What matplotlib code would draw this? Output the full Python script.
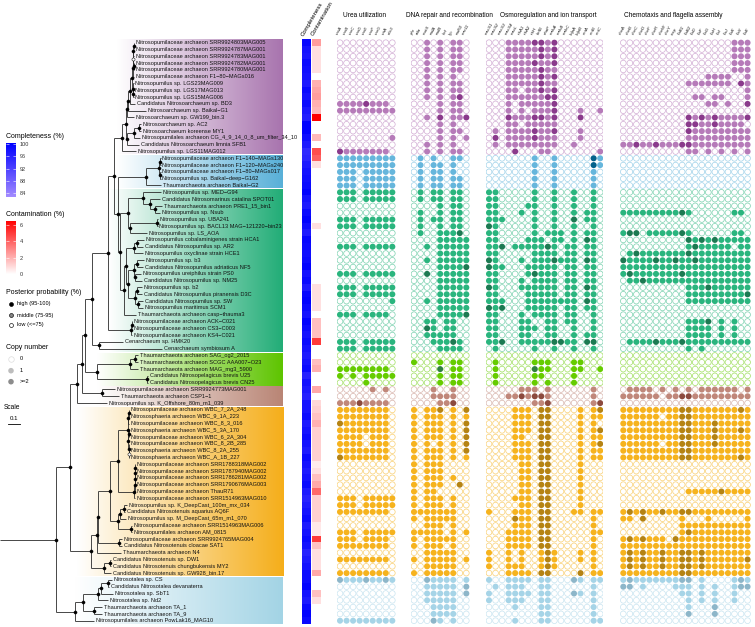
#!/usr/bin/env python
import re
import numpy as np
import matplotlib
matplotlib.use("Agg")
import matplotlib.pyplot as plt
from matplotlib.collections import LineCollection
from matplotlib.colors import LinearSegmentedColormap, Normalize, to_rgb
from matplotlib.cm import ScalarMappable

plt.rcParams['font.family'] = ['Liberation Sans', 'DejaVu Sans']

# ---------------------------------------------------------------- data
TAXA = [
    "Nitrosopumilaceae archaeon SRR9924803MAG005",
    "Nitrosopumilaceae archaeon SRR9924787MAG001",
    "Nitrosopumilaceae archaeon SRR9924783MAG001",
    "Nitrosopumilaceae archaeon SRR9924782MAG001",
    "Nitrosopumilaceae archaeon SRR9924780MAG001",
    "Nitrosopumilaceae archaeon F1\u221280\u2212MAGs016",
    "Nitrosopumilus sp. LGS23MAG009",
    "Nitrosopumilus sp. LGS17MAG013",
    "Nitrosopumilus sp. LGS15MAG006",
    "Candidatus Nitrosoarchaeum sp. BD3",
    "Nitrosoarchaeum sp. Baikal\u2212G1",
    "Nitrosoarchaeum sp. GW199_bin.3",
    "Nitrosoarchaeum sp. AC2",
    "Nitrosoarchaeum koreense MY1",
    "Nitrosopumilales archaeon CG_4_9_14_0_8_um_filter_34_10",
    "Candidatus Nitrosoarchaeum limnia SFB1",
    "Nitrosopumilus sp. LGS11MAG012",
    "Nitrosopumilaceae archaeon F1\u2212140\u2212MAGs130",
    "Nitrosopumilaceae archaeon F1\u2212120\u2212MAGs240",
    "Nitrosopumilaceae archaeon F1\u221280\u2212MAGs017",
    "Nitrosopumilus sp. Baikal\u2212deep\u2212G162",
    "Thaumarchaeota archaeon Baikal\u2212G2",
    "Nitrosopumilus sp. MED\u2212G94",
    "Candidatus Nitrosomarinus catalina SPOT01",
    "Thaumarchaeota archaeon PRE1_15_bin1",
    "Nitrosopumilus sp. Nsub",
    "Nitrosopumilus sp. UBA241",
    "Nitrosopumilus sp. BACL13 MAG\u2212121220\u2212bin23",
    "Nitrosopumilus sp. LS_AOA",
    "Nitrosopumilus cobalaminigenes strain HCA1",
    "Candidatus Nitrosopumilus sp. AR2",
    "Nitrosopumilus oxyclinae strain HCE1",
    "Nitrosopumilus sp. b3",
    "Candidatus Nitrosopumilus adriaticus NF5",
    "Nitrosopumilus ureiphilus strain PS0",
    "Candidatus Nitrosopumilus sp. NM25",
    "Nitrosopumilus sp. b2",
    "Candidatus Nitrosopumilus piranensis D3C",
    "Candidatus Nitrosopumilus sp. SW",
    "Nitrosopumilus maritimus SCM1",
    "Thaumarchaeota archaeon casp\u2212thauma3",
    "Nitrosopumilaceae archaeon ACK\u2212C021",
    "Nitrosopumilaceae archaeon CS3\u2212C003",
    "Nitrosopumilaceae archaeon KS4\u2212C021",
    "Cenarchaeum sp. HMK20",
    "Cenarchaeum symbiosum A",
    "Thaumarchaeota archaeon SAG_og2_2015",
    "Thaumarchaeota archaeon SCGC AAA007\u2212O23",
    "Thaumarchaeota archaeon MAG_mg3_5900",
    "Candidatus Nitrosopelagicus brevis U25",
    "Candidatus Nitrosopelagicus brevis CN25",
    "Nitrosopumilaceae archaeon SRR9924773MAG001",
    "Thaumarchaeota archaeon CSP1\u22121",
    "Nitrosopumilus sp. K_Offshore_80m_m1_039",
    "Nitrosopumilaceae archaeon WBC_7_2A_248",
    "Nitrososphaeria archaeon WBC_9_1A_223",
    "Nitrosopumilaceae archaeon WBC_8_3_016",
    "Nitrososphaeria archaeon WBC_5_3A_170",
    "Nitrosopumilaceae archaeon WBC_6_2A_304",
    "Nitrosopumilaceae archaeon WBC_8_2B_285",
    "Nitrososphaeria archaeon WBC_8_2A_255",
    "Nitrososphaeria archaeon WBC_A_1B_227",
    "Nitrosopumilaceae archaeon SRR1788318MAG002",
    "Nitrosopumilaceae archaeon SRR1787940MAG002",
    "Nitrosopumilaceae archaeon SRR1786281MAG002",
    "Nitrosopumilaceae archaeon SRR1790676MAG003",
    "Nitrosopumilaceae archaeon ThauR71",
    "Nitrosopumilaceae archaeon SRR1514963MAG010",
    "Nitrosopumilus sp. K_DeepCast_100m_mx_034",
    "Candidatus Nitrosotenuis aquarius AQ6F",
    "Nitrosopumilus sp. M_DeepCast_65m_m1_070",
    "Nitrosopumilaceae archaeon SRR1514963MAG006",
    "Nitrosopumilales archaeon AM_0815",
    "Nitrosopumilaceae archaeon SRR9924765MAG004",
    "Candidatus Nitrosotenuis cloacae SAT1",
    "Thaumarchaeota archaeon N4",
    "Candidatus Nitrosotenuis sp. DW1",
    "Candidatus Nitrosotenuis chungbukensis MY2",
    "Candidatus Nitrosotenuis sp. GW928_bin.17",
    "Nitrosotalea sp. CS",
    "Candidatus Nitrosotalea devanaterra",
    "Nitrosotalea sp. SbT1",
    "Nitrosotalea sp. Nd2",
    "Thaumarchaeota archaeon TA_1",
    "Thaumarchaeota archaeon TA_9",
    "Nitrosopumilales archaeon PowLak16_MAG10",
]

# clades from top to bottom: purple, blue, green, light green, brown, orange, light blue
CLADE_SIZES = [17, 5, 24, 5, 3, 25, 7]

# tree (leaf numbers index TAXA, branch lengths in substitutions/site)
P9 = "((((0:0.004,1:0.004):0.002,2:0.006):0.002,(3:0.004,4:0.004):0.004)60:0.002,5:0.008):0.008"
P10 = "(6:0.006,(7:0.004,8:0.004):0.002):0.008"
P5 = f"(((({P9},{P10}):0.017,9:0.042):0.017,10:0.15):0.008,11:0.058):0.008"
P2 = "(((12:0.017,13:0.017):0.042,14:0.05):0.058,15:0.1):0.008"
PURPLE = f"(({P5},{P2}):0.033,16:0.117):0.067"
BLUE = "(((17:0.008,18:0.008):0.008,(19:0.008,20:0.008):0.008):0.108,21:0.125):0.233"
MED = "(22:0.15,(23:0.083,(24:0.058,25:0.042):0.042):0.058):0.125"
GCA = f"({MED},((26:0.008,27:0.004):0.225,28:0.142):0.017):0.067"
HCA = "((29:0.058,30:0.05):0.025,31:0.075):0.067"
SCM = ("(((32:0.058,33:0.05):0.025,(34:0.05,35:0.058):0.008):0.05,"
       "((36:0.042,37:0.042):0.017,(38:0.042,39:0.042):0.025):0.058):0.017")
GCB = f"(({HCA},{SCM}):0.017,40:0.1):0.033"
GREEN = f"({GCA},{GCB}):0.017"
ACK = "((41:0.004,42:0.004):0.004,43:0.008):0.192"
CEN = "(44:0.2,45:0.525):0.058"
TOP = f"((({PURPLE},({BLUE},{GREEN}):0.033):0.05,{ACK}):0.133,{CEN}):0.058"
LIGHTGREEN = "(((46:0.025,47:0.025):0.042,48:0.067):0.275,(49:0.008,50:0.008):0.417):0.1"
BROWN = "(51:0.108,52:0.142):0.167"
UPPER = f"((({TOP},{LIGHTGREEN}):0.025,{BROWN}):0.042,53:0.25):0.058"
WBC = ("(((54:0.004,55:0.004):0.002,56:0.006):0.002,"
       "((57:0.004,58:0.004):0.002,(59:0.004,(60:0.002,61:0.002)70:0.002):0.002):0.002):0.083")
SRR = "(((((62:0.002,63:0.002):0.001,64:0.003):0.001,65:0.004):0.001,66:0.005):0.004,67:0.008):0.133"
O6 = "(((68:0.025,69:0.008):0.033,70:0.05):0.017,(71:0.008,72:0.008):0.108):0.067"
O4 = f"(({WBC},{SRR}):0.067,{O6}):0.1"
ORANGE = f"((({O4},(73:0.025,74:0.025):0.175):0.008,75:0.2):0.05,((76:0.008,77:0.008):0.05,78:0.058):0.108):0.175"
LIGHTBLUE = ("(((((79:0.033,80:0.008):0.058,81:0.1):0.025,82:0.083):0.125,"
             "(83:0.067,84:0.067):0.092):0.067,85:0.158):0.158")
NEWICK = f"(({UPPER},{ORANGE}):0.117,{LIGHTBLUE}):0.467;"

COMPLETENESS = [
    99.5, 98, 97.5, 99, 98.5, 98, 97, 99, 98, 99, 97.5, 96.5, 100, 100, 98.5, 97, 95,
    95.5, 97, 98, 98.5, 99,
    100, 98, 97, 99, 100, 98.5, 97, 99.5, 99, 98.5, 99, 100, 98, 99, 97, 99.5, 100, 99, 98, 100, 99, 98, 99, 98,
    97, 98, 99, 96, 98,
    97, 96, 98,
    98, 99, 97, 98, 99, 98, 97, 99, 98, 97, 98, 99, 97, 96, 97, 98, 99, 97, 98, 99, 98, 96, 97, 98, 99,
    99, 100, 98, 97, 99, 100, 99,
]
CONTAMINATION = [
    2.5, 0.8, 0.8, 0.8, 0.8, 0.0, 2.0, 2.3, 2.5, 2.0, 1.8, 6.5, 0, 0, 1.8, 0, 4.5,
    4.0, 0.8, 0, 0, 0,
    0, 0, 0, 0, 0, 0.8, 0, 0, 0, 0, 0, 0, 0, 0, 0.8, 0.8, 0.8, 0.8, 0, 1.6, 1.6, 1.6, 5.0, 0,
    0, 1.6, 2.0, 0, 0,
    2.2, 0, 1.0,
    1.2, 1.5, 2.0, 1.2, 1.2, 1.2, 1.2, 1.2, 0.5, 0.8, 1.6, 2.2, 3.8, 1.2, 1.2, 1.2, 1.2, 0.6, 0.6, 5.0,
    1.5, 0.8, 0.8, 0.8, 2.2,
    0, 0, 1.6, 0.8, 0, 0, 0,
]

UREA_GENES = ["ureA", "ureB", "ureC", "ureD", "ureE", "ureF", "ureG", "urtA", "dur3"]
DNA_GENES = ["phr", "ada", "mutS", "radA", "radB", "hef", "hjc", "rad50", "mre11"]
OSMO_GENES = ["mscS1", "mscS2", "mscS3", "mscS4", "mscL", "trkA1", "trkA2", "trkH", "kefB",
              "nhaP", "mnhA", "mnhB", "mnhC", "kdpA", "kdpB", "ectA", "ectB", "ectC"]
CHEMO_GENES = ["cheA", "cheB", "cheC", "cheD", "cheF", "cheR", "cheW", "cheY", "mcp", "flaB1",
               "flaB2", "flaD", "flaF", "flaG", "flaH", "flaI", "flaJ", "flaK", "flaX", "flaE"]

# copy number per taxon (0 absent, 1 one copy, 2 two or more)
UREA = [
    "000000000", "000000000", "000000000", "000000000", "000000000", "000000000",
    "000000000", "000000000", "000000000", "111121110", "111111111", "000000000",
    "000000000", "000000000", "000000001", "000000000", "211111110",
    "111111111", "111111111", "111011111", "111011111", "111011111",
    "111011111", "111011111", "000000000", "000000000", "111011111", "111011111",
    "000000000", "000000000", "111011111", "000000000", "000000000", "000000000",
    "111011111", "000000000", "111011111", "111011111", "000000001", "000000000",
    "111011110", "000000000", "000000000", "000000000", "111011111", "111011111",
    "000000000", "000000000", "111111110", "101011111", "000010000",
    "000001010", "000000000", "111211110",
    "111111110", "111111110", "211111110", "111111110", "111101110", "111101110",
    "111111110", "211111110", "000000000", "000000000", "000000000", "000000000",
    "000000000", "111011111", "111011111", "111111110", "000000000", "000000000",
    "111011111", "111011110", "111111110", "000000000", "111111110", "000000000",
    "111111110",
    "211121121", "000000000", "000000000", "000000000", "000000000", "000000000", "111111111",
]
DNA = [
    "001010110", "001010110", "001010110", "001010110", "001010110", "001010100",
    "001010110", "001010110", "001010120", "000010110", "000010110", "001020112",
    "000010100", "000010110", "000010101", "001010100", "001010110",
    "010100110", "010110100", "010110100", "010110110", "010110110",
    "010110110", "010110110", "000010110", "010010110", "010110110", "010010110",
    "010011120", "000011111", "001011111", "000011111", "001011111", "000011112",
    "002011111", "000011111", "000011111", "000011111", "001011111", "000011111",
    "000011112", "001101100", "002101100", "001111100", "000111210", "000011110",
    "000000000", "100010110", "000020110", "000010110", "000010110",
    "000100100", "000111100", "000011200",
    "101120102", "101110101", "101110102", "101110102", "101110102", "101010102",
    "101110102", "101110101", "101110000", "101110000", "101110100", "101110020",
    "101100000", "101110100", "101110100", "111111100", "101111100", "001110100",
    "111110101", "101111100", "101110100", "001111100", "101111101", "001111100",
    "101111100",
    "002111101", "001111102", "001111102", "001111100", "000111100", "000111100", "000210100",
]
OSMO = [
    "000111122120000000", "000111112120000000", "000111112120000000", "000111121120000000",
    "000111112110000000", "000111112120000000", "000111112110000000", "000110112120000000",
    "000111111220000000", "000101111120000000", "000101011120001001", "000211122120002000",
    "000110111110000000", "010111121120001000", "020111121110001000", "010111111110010000",
    "000020001100000001",
    "000000010010000021", "000000010010000021", "000000010010000010", "000000010010000010",
    "000000010010000010",
    "110000010010010010", "110000010010010010", "110000110010010010", "110001010010010110",
    "111000010010020110", "210000010010010010", "110000010111010110", "110000111011010210",
    "112011111210110110", "110000011110110110", "210001011121110210", "211000111110110110",
    "110000121110110110", "110001011110110110", "210001111110110210", "110000111110110110",
    "111000111111110210", "212000111110110110", "110001011110110010", "110001100110110010",
    "110001110110010010", "110001100110010110", "112001111122110220", "010000010010010010",
    "000000000000000000", "010000011100011000", "010000021100011001", "010000011000010000",
    "010000010100010000",
    "000001110100000010", "000112122100000010", "000000011200000012",
    "000011102200001012", "000011102200001011", "000011102200001010", "000011102200001012",
    "000011002200001011", "000011102200001012", "000011102200001011", "000011102200001011",
    "000001102200001000", "000001102200001000", "000001102200001000", "000001102200001000",
    "000001102200001000", "000011102200001000", "000001102200001000", "100011102200011011",
    "000021102200000010", "000011102200000010", "000111102200000011", "000111102200000010",
    "000111102200000010", "100101001210001010", "100101001210001010", "100111001210000010",
    "000111102200002011",
    "100111101100021011", "010111001100000010", "100111101100021010", "100111001100000010",
    "000010001100000010", "000000001100000010", "000010001100000011",
]
CHEMO = [
    "00000000000000000111", "00000000000000000111", "00000000000000000111",
    "00000000000000000111", "00000000000000000111", "00000000000001111001",
    "00000000001111111021", "00000000000000000001", "00000000000110110001",
    "00000000000001101002", "00000000000000000000", "00000000002121211112",
    "00000000002211211110", "00000000002111111111", "00000000001111111111",
    "11211211122111111111", "00000000001101010101",
    "00000000000000000000", "00000000000000000000", "00000000000000000000",
    "00000000000000000000", "00000000000000000000",
    "00000000000000000000", "00000000000000000000", "00000000000000000000",
    "11111111121000000110", "00000000000000000000", "00000000000000000000",
    "12201111121000000110", "00000000002121211111", "00000000001211111011",
    "01211111112111111111", "21111211211211111111", "11111111111111111111",
    "12111111121111111111", "01121111111111111111", "00000000001112111111",
    "00000000001111111112", "00000000001111111111", "00000000000000000000",
    "00000000000000000000", "00000000001112010100", "00000000001111010100",
    "00000000001111010100", "01111211121111111111", "00000000001010000000",
    "00000000000000000000", "00000000000000000000", "00000000000000000000",
    "00000000000000000000", "00000000000000000000",
    "01111010101011111101", "11111101122111111111", "00000000000000000000",
    "11111111122111111121", "11111101122111111111", "11111111122111211111",
    "11111111122111211121", "11111111122111211111", "11111101122111211111",
    "11111111122111111111", "11111111122111111121", "00000000000000000000",
    "00000000000000000000", "00000000000000000000", "00000000000000000000",
    "00000000001111121111", "00000000000000000000", "00000000000000000000",
    "12121121122111111111", "11020000010001000001", "00000000011111111111",
    "00000000012111111111", "12121110211111111111", "11111111111111111111",
    "12121121122121111111", "12121121122121111112", "12121121122121111111",
    "11111111122111111111",
    "12111111122010000121", "22010000111010100122", "00000000011010100100",
    "00000000001010100100", "00000000001000200000", "00000000002000200000",
    "00000000000000000000",
]

# ---------------------------------------------------------------- styles
CLADE_FILL = ["#B67BB9", "#66B6DC", "#2AB57E", "#66CC00", "#C0877A", "#F6B31E", "#A6D4E7"]
CLADE_DARK = ["#8A3A8C", "#05628B", "#1C7A52", "#2F8040", "#8C4A3E", "#B58313", "#8DB6C9"]
CLADE_BG = ["#A874AE", "#58B0D8", "#22AD77", "#5EC400", "#B98575", "#F5AE1A", "#A3D4E5"]
CLADE_BG_START = [0.975, 0.975, 0.91, 0.81, 0.81, 0.64, 0.625]
BG_END = 2.358

comp_cmap = LinearSegmentedColormap.from_list("comp", ["#A48CFF", "#0000FF"])
cont_cmap = LinearSegmentedColormap.from_list("cont", ["#FFFFFF", "#FF0000"])
COMP_LIM = (82.7, 100.2)
CONT_LIM = (0, 6.5)


def parse_newick(s):
    s = s.strip().rstrip(';')
    pos = 0

    def node():
        nonlocal pos
        n = {'children': [], 'name': None, 'len': 0.0, 'support': None}
        if s[pos] == '(':
            pos += 1
            while True:
                n['children'].append(node())
                if s[pos] == ',':
                    pos += 1
                else:
                    break
            pos += 1
        m = re.match(r'([^:,()]*)(?::([-0-9.eE]+))?', s[pos:])
        pos += m.end()
        if m.group(1):
            if n['children']:
                n['support'] = float(m.group(1))
            else:
                n['name'] = int(m.group(1))
        if m.group(2):
            n['len'] = float(m.group(2))
        return n
    return node()


def layout(n, x0=0.0):
    n['x'] = x0 + n['len']
    if n['children']:
        for c in n['children']:
            layout(c, n['x'])
        n['y'] = np.mean([c['y'] for c in n['children']])
    else:
        n['y'] = n['name']


def walk(n):
    yield n
    for c in n['children']:
        yield from walk(c)


root = parse_newick(NEWICK)
layout(root)

W, H = 755, 627
fig = plt.figure(figsize=(W / 100, H / 100), dpi=100)


def px_axes(x0, y0, w, h):
    return fig.add_axes([x0 / W, 1 - (y0 + h) / H, w / W, h / H])


ROW_TOP, ROW_BOT = 39.3, 624.1
n_rows = len(TAXA)
row_clade = np.repeat(np.arange(len(CLADE_SIZES)), CLADE_SIZES)
bounds = np.concatenate([[0], np.cumsum(CLADE_SIZES)])

# ---------------------------------------------------------------- tree
tax = px_axes(0, ROW_TOP, 285, ROW_BOT - ROW_TOP)
grad = np.linspace(0, 1, 256)[None, :]
for ci in range(len(CLADE_SIZES)):
    r0, r1 = bounds[ci], bounds[ci + 1] - 1
    cm = LinearSegmentedColormap.from_list("bg%d" % ci, ["#FFFFFF", CLADE_BG[ci]])
    tax.imshow(grad, cmap=cm, aspect='auto', interpolation='bilinear', zorder=0,
               extent=(CLADE_BG_START[ci], BG_END, r1 + 0.42, r0 - 0.42))

segs = [[(0, root['y']), (root['x'], root['y'])]]
for n in walk(root):
    if n['children']:
        ys = [c['y'] for c in n['children']]
        segs.append([(n['x'], min(ys)), (n['x'], max(ys))])
        for c in n['children']:
            segs.append([(n['x'], c['y']), (c['x'], c['y'])])
tax.add_collection(LineCollection(segs, colors='#2a2a2a', linewidths=0.6, zorder=2))

for n in walk(root):
    if n['children']:
        sup = 100 if n['support'] is None else n['support']
        fc = 'black' if sup >= 95 else ('#888888' if sup > 75 else 'white')
        tax.scatter(n['x'], n['y'], s=5, facecolor=fc, edgecolor='black', linewidths=0.35, zorder=3)
    else:
        tax.text(n['x'] + 0.014, n['y'], TAXA[n['name']], fontsize=4.05, va='center',
                 ha='left', color='#111111', zorder=4, clip_on=False)

# scale bar
tax.plot([0.07, 0.17], [56.1, 56.1], color='black', lw=0.6)
tax.text(0.12, 55.3, "0.1", fontsize=4.4, ha='center', va='center')
tax.text(0.033, 53.6, "Scale", fontsize=4.8, ha='left', va='center')
tax.set_xlim(0, 285 / 120)
tax.set_ylim(n_rows - 0.5, -0.5)
tax.axis('off')

# ---------------------------------------------------------------- completeness / contamination
for x0, vals, cmap, lim, label in [(302.3, COMPLETENESS, comp_cmap, COMP_LIM, "Completeness"),
                                   (312.0, CONTAMINATION, cont_cmap, CONT_LIM, "Contamination")]:
    hax = px_axes(x0, ROW_TOP, 8.4, ROW_BOT - ROW_TOP)
    hax.imshow(np.array(vals, dtype=float)[:, None], cmap=cmap, vmin=lim[0], vmax=lim[1],
               aspect='auto', interpolation='nearest', extent=(-0.5, 0.5, n_rows - 0.5, -0.5))
    hax.set_xlim(-0.5, 0.5)
    hax.set_ylim(n_rows - 0.5, -0.5)
    hax.axis('off')
    hax.text(-0.2, -0.9, label, rotation=60, rotation_mode='anchor', ha='left', va='bottom',
             fontsize=4.3, clip_on=False)

# ---------------------------------------------------------------- gene matrices
SP = 6.54
groups = [("Urea utilization", UREA_GENES, UREA, 340.0, 343.0),
          ("DNA repair and recombination", DNA_GENES, DNA, 414.0, 405.7),
          ("Osmoregulation and ion transport", OSMO_GENES, OSMO, 489.0, 500.0),
          ("Chemotaxis and flagella assembly", CHEMO_GENES, CHEMO, 623.3, 624.0)]

fill_rgb = np.array([to_rgb(c) for c in CLADE_FILL])
dark_rgb = np.array([to_rgb(c) for c in CLADE_DARK])
light_rgb = 1 - 0.62 * (1 - fill_rgb)

for title, genes, rows, x_first, title_x in groups:
    m = np.array([[int(ch) for ch in r] for r in rows])
    ncol = m.shape[1]
    ax = px_axes(x_first - SP / 2, ROW_TOP, ncol * SP, ROW_BOT - ROW_TOP)
    rr, cc = np.nonzero(m >= 0)
    vals = m[rr, cc]
    cl = row_clade[rr]
    e = vals == 0
    ax.scatter(cc[e], rr[e], s=17, facecolor='white', edgecolor=light_rgb[cl[e]], linewidths=0.5)
    f = vals == 1
    ax.scatter(cc[f], rr[f], s=19, facecolor=fill_rgb[cl[f]], edgecolor='none')
    d = vals >= 2
    ax.scatter(cc[d], rr[d], s=19, facecolor=dark_rgb[cl[d]], edgecolor='none')
    for j, g in enumerate(genes):
        ax.text(j - 0.2, -1.0, g, rotation=60, rotation_mode='anchor', ha='left', va='bottom',
                fontsize=3.2, style='italic', color='#222222', clip_on=False)
    ax.set_xlim(-0.5, ncol - 0.5)
    ax.set_ylim(n_rows - 0.5, -0.5)
    ax.axis('off')
    fig.text(title_x / W, 1 - 15.7 / H, title, fontsize=4.7, ha='left', va='center')

# ---------------------------------------------------------------- legends
lax = fig.add_axes([0, 0, 1, 1], zorder=-1)
lax.set_xlim(0, W)
lax.set_ylim(H, 0)
lax.axis('off')

lax.text(6, 137, "Completeness (%)", fontsize=5, va='center')
lax.text(6, 214.5, "Contamination (%)", fontsize=5, va='center')
for y0, h, cmap, lim, ticks in [(143.3, 54, comp_cmap, COMP_LIM, [84, 88, 92, 96, 100]),
                                (220.7, 53.6, cont_cmap, CONT_LIM, [0, 2, 4, 6])]:
    cb_ax = px_axes(5.5, y0, 10.5, h)
    cb = fig.colorbar(ScalarMappable(Normalize(*lim), cmap), cax=cb_ax, ticks=ticks)
    cb.outline.set_visible(False)
    cb_ax.tick_params(axis='y', length=2.0, width=0.4, color='white', direction='in',
                      labelsize=4, pad=2.5, left=True, right=True, labelcolor='#333333')

lax.text(6, 292.3, "Posterior probability (%)", fontsize=5, va='center')
for y, fc, lab in [(304, 'black', "high (95-100)"), (315, '#888888', "middle (75-95)"),
                   (324.5, 'white', "low (<=75)")]:
    lax.scatter(11, y, s=8, facecolor=fc, edgecolor='black', linewidths=0.45)
    lax.text(17, y, lab, fontsize=4.1, va='center')

lax.text(6, 347.3, "Copy number", fontsize=5, va='center')
for y, fc, lab in [(359, 'white', "0"), (370.7, '#BDBDBD', "1"), (381.7, '#8C8C8C', ">=2")]:
    lax.scatter(11, y, s=16, facecolor=fc, edgecolor='#DDDDDD' if fc == 'white' else 'none',
                linewidths=0.5)
    lax.text(20, y, lab, fontsize=4.1, va='center')

fig.savefig("out.png", dpi=100)
